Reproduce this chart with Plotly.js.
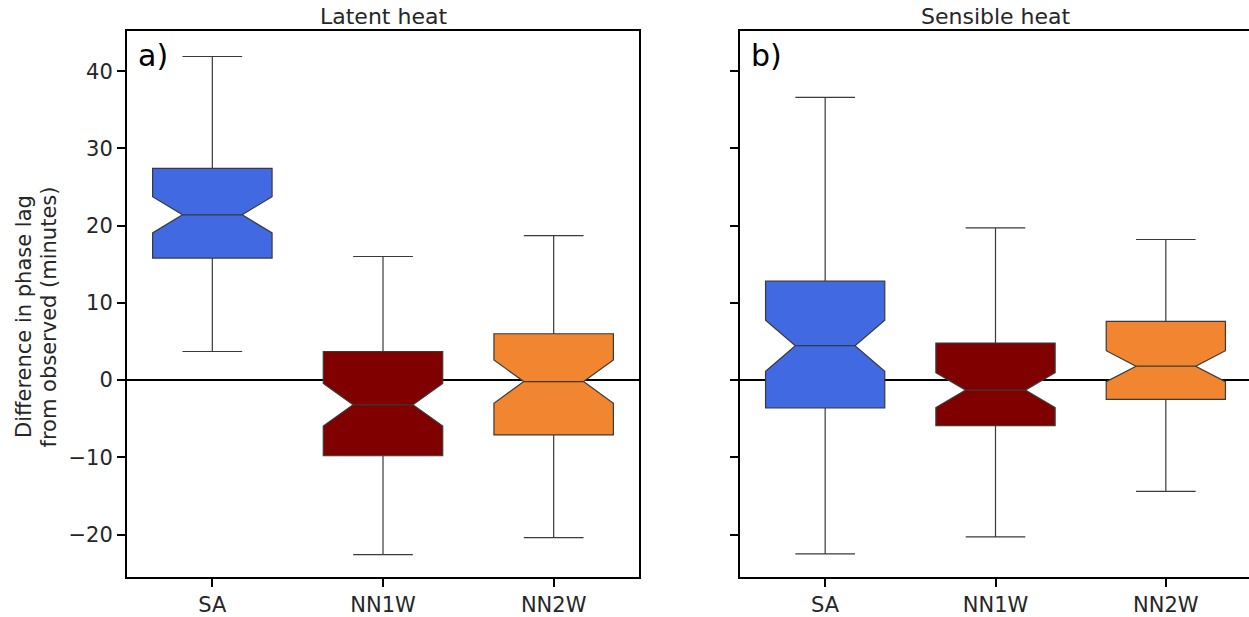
<!DOCTYPE html>
<html>
<head>
<meta charset="utf-8">
<script src="https://cdn.plot.ly/plotly-3.0.1.min.js"></script>
<style>html,body{margin:0;padding:0;overflow:hidden;background:#fff;}#chart{width:1252px;height:617px;}</style>
</head>
<body>
<div id="chart"></div>
<script>
const categories = ['SA', 'NN1W', 'NN2W'];
const colors = ['#4169e1', '#800000', '#f2852f'];

// Latent heat (panel a)
const latentUpper  = [41.9, 16.0, 18.7];
const latentQ3     = [27.4, 3.7, 6.0];
const latentMedian = [21.4, -3.2, -0.2];
const latentQ1     = [15.8, -9.8, -7.1];
const latentLower  = [3.7, -22.6, -20.4];
const latentNotch  = [2.35, 2.75, 2.8];

// Sensible heat (panel b)
const sensibleUpper  = [36.6, 19.7, 18.2];
const sensibleQ3     = [12.8, 4.8, 7.6];
const sensibleMedian = [4.45, -1.3, 1.8];
const sensibleQ1     = [-3.6, -5.9, -2.5];
const sensibleLower  = [-22.5, -20.3, -14.4];
const sensibleNotch  = [3.3, 2.25, 2.0];

const yTicks = [-20, -10, 0, 10, 20, 30, 40];
const yTitleLines = ['Difference in phase lag', 'from observed (minutes)'];

const traces = [];
function addPanel(up, q3, med, q1, lo, notch, xa, ya) {
  categories.forEach((c, i) => {
    traces.push({
      type: 'box', x: [c], q1: [q1[i]], median: [med[i]], q3: [q3[i]],
      lowerfence: [lo[i]], upperfence: [up[i]], notched: true, notchspan: [notch[i]],
      notchwidth: 0.25, whiskerwidth: 0.5, width: 0.7,
      fillcolor: colors[i], line: {color: '#3a3a3a', width: 1.2},
      boxpoints: false, showlegend: false, hoverinfo: 'skip',
      xaxis: xa, yaxis: ya
    });
  });
}
addPanel(latentUpper, latentQ3, latentMedian, latentQ1, latentLower, latentNotch, 'x', 'y');
addPanel(sensibleUpper, sensibleQ3, sensibleMedian, sensibleQ1, sensibleLower, sensibleNotch, 'x2', 'y2');

const font = {family: 'DejaVu Sans', size: 21, color: '#262626'};
const titleFont = {family: 'DejaVu Sans', size: 22, color: '#262626'};
const xBase = {
  type: 'category', categoryorder: 'array', categoryarray: categories,
  range: [-0.5, 2.5], showline: true, mirror: true, linecolor: '#000', linewidth: 2,
  ticks: 'outside', ticklen: 8, tickwidth: 2, tickcolor: '#000',
  showgrid: false, zeroline: false, tickfont: font, fixedrange: true
};
const yBase = {
  range: [-25.5, 45.2], tickvals: yTicks, ticktext: yTicks.map(v => v < 0 ? '\u2212' + Math.abs(v) : String(v)),
  showline: true, mirror: true, linecolor: '#000', linewidth: 2,
  ticks: 'outside', ticklen: 8, tickwidth: 2, tickcolor: '#000',
  showgrid: false, zeroline: true, zerolinecolor: '#000', zerolinewidth: 2.5,
  tickfont: font, fixedrange: true
};
const W = 1252, H = 617, L = 127, R = 1;
const plotW = W - L - R;
const layout = {
  width: W, height: H,
  margin: {l: L, r: R, t: 31, b: 40},
  paper_bgcolor: '#fff', plot_bgcolor: '#fff',
  font: font, boxmode: 'overlay', showlegend: false,
  xaxis: Object.assign({}, xBase, {domain: [0, (639 - L) / plotW], anchor: 'y'}),
  xaxis2: Object.assign({}, xBase, {domain: [(740 - L) / plotW, 1], anchor: 'y2'}),
  yaxis: Object.assign({}, yBase, {anchor: 'x'}),
  yaxis2: Object.assign({}, yBase, {anchor: 'x2', showticklabels: false}),
  annotations: [
    {text: 'Latent heat', xref: 'x domain', yref: 'y domain', x: 0.5, y: 1, xanchor: 'center', yanchor: 'bottom', yshift: 0, showarrow: false, font: titleFont},
    {text: 'Sensible heat', xref: 'x2 domain', yref: 'y2 domain', x: 0.5, y: 1, xanchor: 'center', yanchor: 'bottom', yshift: 0, showarrow: false, font: titleFont},
    {text: 'a)', xref: 'x domain', yref: 'y domain', x: 0.018, y: 0.99, xanchor: 'left', yanchor: 'top', showarrow: false, font: {family: 'DejaVu Sans', size: 30, color: '#000'}},
    {text: 'b)', xref: 'x2 domain', yref: 'y2 domain', x: 0.018, y: 0.99, xanchor: 'left', yanchor: 'top', showarrow: false, font: {family: 'DejaVu Sans', size: 30, color: '#000'}},
    {text: yTitleLines[0], xref: 'paper', yref: 'paper', x: -(L - 24) / plotW, y: 1 - (317 - 31) / (H - 71), xanchor: 'center', yanchor: 'middle', textangle: -90, showarrow: false, font: font},
    {text: yTitleLines[1], xref: 'paper', yref: 'paper', x: -(L - 48.5) / plotW, y: 1 - (317 - 31) / (H - 71), xanchor: 'center', yanchor: 'middle', textangle: -90, showarrow: false, font: font}
  ]
};
Plotly.newPlot('chart', traces, layout, {displayModeBar: false, staticPlot: true});
</script>
</body>
</html>
